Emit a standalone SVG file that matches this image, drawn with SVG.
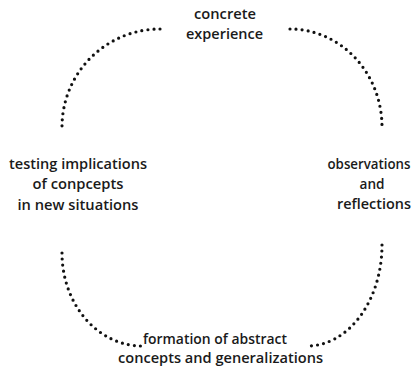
<svg xmlns="http://www.w3.org/2000/svg" width="420" height="370" viewBox="0 0 420 370">
<style>
.t{font-family:"Open Sans","Noto Sans","Liberation Sans",sans-serif;font-weight:600;font-size:15px;fill:#1a1a1a;text-anchor:middle}
.d{fill:none;stroke:#111;stroke-width:3.2;stroke-linecap:round;stroke-dasharray:0 6.1}
</style>
<rect width="420" height="370" fill="#fff"/>
<g id="connectors">
<path class="d" d="M160,29 A98,98 0 0 0 62,127"/>
<path class="d" d="M290,29 A92,98 0 0 1 382,127"/>
<path class="d" d="M62,253 A80,93 0 0 0 142,346"/>
<path class="d" d="M382,245 A75,101 0 0 1 307,346"/>
</g>
<g id="concrete-experience">
<text class="t" x="225" y="19" textLength="62" lengthAdjust="spacingAndGlyphs">concrete</text>
<text class="t" x="224.5" y="39" textLength="77" lengthAdjust="spacingAndGlyphs">experience</text>
</g>
<g id="observations">
<text class="t" x="369" y="169" textLength="83" lengthAdjust="spacingAndGlyphs">observations</text>
<text class="t" x="372" y="189" textLength="25" lengthAdjust="spacingAndGlyphs">and</text>
<text class="t" x="374" y="209" textLength="74" lengthAdjust="spacingAndGlyphs">reflections</text>
</g>
<g id="abstract-concepts">
<text class="t" x="215" y="344" textLength="144" lengthAdjust="spacingAndGlyphs">formation of abstract</text>
<text class="t" x="220.5" y="363" textLength="205" lengthAdjust="spacingAndGlyphs">concepts and generalizations</text>
</g>
<g id="testing">
<text class="t" x="78" y="169" textLength="138" lengthAdjust="spacingAndGlyphs">testing implications</text>
<text class="t" x="78" y="189" textLength="91" lengthAdjust="spacingAndGlyphs">of conpcepts</text>
<text class="t" x="78" y="210" textLength="121" lengthAdjust="spacingAndGlyphs">in new situations</text>
</g>
</svg>
